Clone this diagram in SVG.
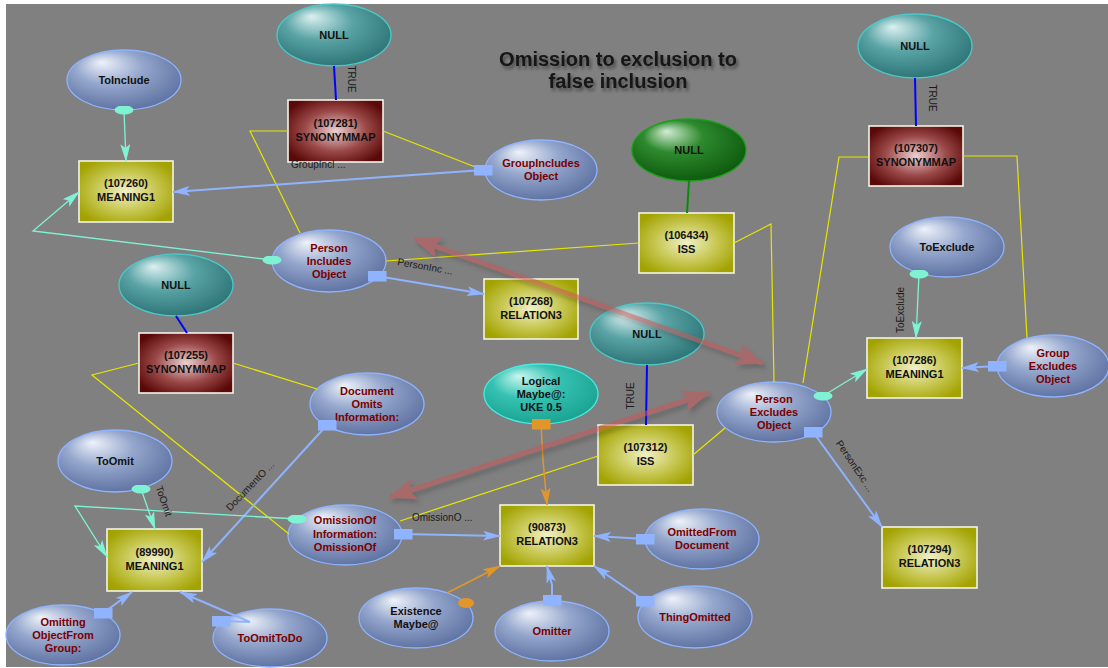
<svg xmlns="http://www.w3.org/2000/svg" width="1108" height="668" viewBox="0 0 1108 668">
<style>
text{font-family:"Liberation Sans",Arial,sans-serif}
.nt{font-size:11px;font-weight:bold;text-anchor:middle;fill:#111}
.rt{font-size:11px;font-weight:bold;text-anchor:middle;fill:#7a0000}
.el{stroke:#8fb3ff;stroke-width:1.3}
.tl{stroke:#4cc8c8;stroke-width:1.3}
.rc{stroke:#f4f4e8;stroke-width:1.6}
.cb{fill:none;stroke:#8fb3ff;stroke-width:2}
.cc{fill:none;stroke:#80f2d4;stroke-width:1.3}
.co{fill:none;stroke:#e0962a;stroke-width:1.5}
.cy{fill:none;stroke:#e6e600;stroke-width:1.2}
.cd{fill:none;stroke:#0000ff;stroke-width:2}
.lb{font-size:10px;fill:#1a1a1a}
.title{font-size:20px;font-weight:bold;text-anchor:middle;fill:#141414}
</style>
<defs>
<radialGradient id="gBlue" cx="0.45" cy="0.4" r="0.65" fx="0.3" fy="0.2"><stop offset="0" stop-color="#eef2fa"/><stop offset="0.45" stop-color="#95a7cd"/><stop offset="1" stop-color="#5a6e9e"/></radialGradient>
<radialGradient id="gTeal" cx="0.45" cy="0.4" r="0.65" fx="0.3" fy="0.2"><stop offset="0" stop-color="#dcf0f0"/><stop offset="0.45" stop-color="#5aa4a6"/><stop offset="1" stop-color="#2a7072"/></radialGradient>
<radialGradient id="gGreen" cx="0.45" cy="0.4" r="0.65" fx="0.3" fy="0.2"><stop offset="0" stop-color="#d4ecd4"/><stop offset="0.4" stop-color="#2e8a2e"/><stop offset="1" stop-color="#0b560b"/></radialGradient>
<radialGradient id="gLog" cx="0.45" cy="0.4" r="0.65" fx="0.3" fy="0.2"><stop offset="0" stop-color="#c8f6f0"/><stop offset="0.45" stop-color="#36c2b2"/><stop offset="1" stop-color="#16a090"/></radialGradient>
<radialGradient id="gYel" cx="0.5" cy="0.5" r="0.6"><stop offset="0" stop-color="#f0f0c8"/><stop offset="0.55" stop-color="#c6c650"/><stop offset="1" stop-color="#a2a200"/></radialGradient>
<radialGradient id="gBrn" cx="0.5" cy="0.5" r="0.6"><stop offset="0" stop-color="#ecd0d0"/><stop offset="0.55" stop-color="#9a4848"/><stop offset="1" stop-color="#5a0808"/></radialGradient>
<marker id="arB" viewBox="0 0 18 10" refX="17" refY="5" markerWidth="18" markerHeight="10" markerUnits="userSpaceOnUse" orient="auto"><path d="M0,0 L18,5 L0,10 L4,5 Z" fill="#8fb3ff"/></marker>
<marker id="arC" viewBox="0 0 18 10" refX="17" refY="5" markerWidth="18" markerHeight="10" markerUnits="userSpaceOnUse" orient="auto"><path d="M0,0 L18,5 L0,10 L4,5 Z" fill="#80f2d4"/></marker>
<marker id="arO" viewBox="0 0 18 10" refX="17" refY="5" markerWidth="18" markerHeight="10" markerUnits="userSpaceOnUse" orient="auto"><path d="M0,0 L18,5 L0,10 L4,5 Z" fill="#e0962a"/></marker>
<marker id="sqB" viewBox="0 0 19 11" refX="9.5" refY="5.5" markerWidth="19" markerHeight="11" markerUnits="userSpaceOnUse"><rect width="19" height="11" fill="#8fb3ff"/></marker>
<marker id="sqO" viewBox="0 0 19 11" refX="9.5" refY="5.5" markerWidth="19" markerHeight="11" markerUnits="userSpaceOnUse"><rect width="19" height="11" fill="#e0962a"/></marker>
<marker id="dotC" viewBox="0 0 20 9" refX="10" refY="4.5" markerWidth="20" markerHeight="9" markerUnits="userSpaceOnUse"><ellipse cx="10" cy="4.5" rx="9.5" ry="4.5" fill="#80f2d4"/></marker>
<marker id="arR" viewBox="0 0 28 22" refX="26" refY="11" markerWidth="28" markerHeight="22" markerUnits="userSpaceOnUse" orient="auto-start-reverse"><path d="M0,0 L28,11 L0,22 L6,11 Z" fill="#c85858"/></marker>
<filter id="sh" x="-10%" y="-30%" width="120%" height="160%"><feDropShadow dx="2" dy="3" stdDeviation="1.5" flood-color="#222" flood-opacity="0.55"/></filter>
<filter id="shR" x="-10%" y="-20%" width="120%" height="140%"><feDropShadow dx="3" dy="4" stdDeviation="2" flood-color="#333" flood-opacity="0.5"/></filter>
</defs>
<rect x="0" y="0" width="1108" height="668" fill="#ffffff"/>
<rect x="6" y="4" width="1102" height="663" fill="#808080"/>
<text class="title" x="618" y="66" filter="url(#sh)">Omission to exclusion to</text>
<text class="title" x="618" y="88" filter="url(#sh)">false inclusion</text>

<g id="n_toinclude"><ellipse class="el" cx="124" cy="80" rx="57" ry="30" fill="url(#gBlue)"/><text class="nt" x="124" y="84">ToInclude</text></g>
<g id="n_null1"><ellipse class="tl" cx="334" cy="35" rx="57" ry="31" fill="url(#gTeal)"/><text class="nt" x="334" y="39">NULL</text></g>
<g id="n_107281"><rect class="rc" x="288" y="100" width="95" height="62" fill="url(#gBrn)"/><text class="nt" x="335.5" y="127">(107281)</text><text class="nt" x="335.5" y="141">SYNONYMMAP</text></g>
<g id="n_107260"><rect class="rc" x="79" y="161" width="94" height="61" fill="url(#gYel)"/><text class="nt" x="126" y="187">(107260)</text><text class="nt" x="126" y="201">MEANING1</text></g>
<g id="n_groupinc"><ellipse class="el" cx="541" cy="170" rx="56" ry="30" fill="url(#gBlue)"/><text class="rt" x="541" y="167">GroupIncludes</text><text class="rt" x="541" y="180">Object</text></g>
<g id="n_null_green"><ellipse cx="689" cy="150" rx="57" ry="31" fill="url(#gGreen)" stroke="#18a018" stroke-width="1.3"/><text class="nt" x="689" y="154">NULL</text></g>
<g id="n_106434"><rect class="rc" x="639" y="213" width="95" height="60" fill="url(#gYel)"/><text class="nt" x="686.5" y="238.5">(106434)</text><text class="nt" x="686.5" y="252.5">ISS</text></g>
<g id="n_null2"><ellipse class="tl" cx="915" cy="46" rx="57" ry="32" fill="url(#gTeal)"/><text class="nt" x="915" y="50">NULL</text></g>
<g id="n_107307"><rect class="rc" x="869" y="126" width="94" height="60" fill="url(#gBrn)"/><text class="nt" x="916" y="151.5">(107307)</text><text class="nt" x="916" y="165.5">SYNONYMMAP</text></g>
<g id="n_pio"><ellipse class="el" cx="329" cy="261" rx="57" ry="31" fill="url(#gBlue)"/><text class="rt" x="329" y="252">Person</text><text class="rt" x="329" y="265">Includes</text><text class="rt" x="329" y="278">Object</text></g>
<g id="n_107268"><rect class="rc" x="484" y="279" width="94" height="60" fill="url(#gYel)"/><text class="nt" x="531" y="304.5">(107268)</text><text class="nt" x="531" y="318.5">RELATION3</text></g>
<g id="n_toexclude"><ellipse class="el" cx="947" cy="247" rx="57" ry="30" fill="url(#gBlue)"/><text class="nt" x="947" y="251">ToExclude</text></g>
<g id="n_107286"><rect class="rc" x="867" y="338" width="95" height="60" fill="url(#gYel)"/><text class="nt" x="914.5" y="363.5">(107286)</text><text class="nt" x="914.5" y="377.5">MEANING1</text></g>
<g id="n_groupexc"><ellipse class="el" cx="1053" cy="366" rx="56" ry="31" fill="url(#gBlue)"/><text class="rt" x="1053" y="357">Group</text><text class="rt" x="1053" y="370">Excludes</text><text class="rt" x="1053" y="383">Object</text></g>
<g id="n_null3"><ellipse class="tl" cx="176" cy="285" rx="57" ry="31" fill="url(#gTeal)"/><text class="nt" x="176" y="289">NULL</text></g>
<g id="n_107255"><rect class="rc" x="139" y="333" width="94" height="60" fill="url(#gBrn)"/><text class="nt" x="186" y="358.5">(107255)</text><text class="nt" x="186" y="372.5">SYNONYMMAP</text></g>
<g id="n_docomits"><ellipse class="el" cx="367" cy="404" rx="57" ry="31" fill="url(#gBlue)"/><text class="rt" x="367" y="395">Document</text><text class="rt" x="367" y="408">Omits</text><text class="rt" x="367" y="421">Information:</text></g>
<g id="n_null4"><ellipse class="tl" cx="647" cy="334" rx="57" ry="31" fill="url(#gTeal)"/><text class="nt" x="647" y="338">NULL</text></g>
<g id="n_logical"><ellipse cx="541" cy="394" rx="57" ry="30" fill="url(#gLog)" stroke="#48ece2" stroke-width="1.3"/><text class="nt" x="541" y="385">Logical</text><text class="nt" x="541" y="398">Maybe@:</text><text class="nt" x="541" y="411">UKE 0.5</text></g>
<g id="n_peo"><ellipse class="el" cx="774" cy="412" rx="57" ry="30" fill="url(#gBlue)"/><text class="rt" x="774" y="403">Person</text><text class="rt" x="774" y="416">Excludes</text><text class="rt" x="774" y="429">Object</text></g>
<g id="n_107312"><rect class="rc" x="598" y="425" width="95" height="60" fill="url(#gYel)"/><text class="nt" x="645.5" y="450.5">(107312)</text><text class="nt" x="645.5" y="464.5">ISS</text></g>
<g id="n_toomit"><ellipse class="el" cx="115" cy="461" rx="57" ry="31" fill="url(#gBlue)"/><text class="nt" x="115" y="465">ToOmit</text></g>
<g id="n_89990"><rect class="rc" x="107" y="529" width="95" height="62" fill="url(#gYel)"/><text class="nt" x="154.5" y="555.5">(89990)</text><text class="nt" x="154.5" y="569.5">MEANING1</text></g>
<g id="n_omissionof"><ellipse class="el" cx="345" cy="535" rx="57" ry="30" fill="url(#gBlue)"/><text class="rt" x="345" y="524">OmissionOf</text><text class="rt" x="345" y="538">Information:</text><text class="rt" x="345" y="551">OmissionOf</text></g>
<g id="n_90873"><rect class="rc" x="500" y="505" width="94" height="61" fill="url(#gYel)"/><text class="nt" x="547" y="531">(90873)</text><text class="nt" x="547" y="545">RELATION3</text></g>
<g id="n_omittedfrom"><ellipse class="el" cx="702" cy="539" rx="57" ry="30" fill="url(#gBlue)"/><text class="rt" x="702" y="536">OmittedFrom</text><text class="rt" x="702" y="549">Document</text></g>
<g id="n_existence"><ellipse class="el" cx="416" cy="618" rx="57" ry="30" fill="url(#gBlue)"/><text class="nt" x="416" y="615">Existence</text><text class="nt" x="416" y="628">Maybe@</text></g>
<g id="n_omitter"><ellipse class="el" cx="552" cy="631" rx="57" ry="30" fill="url(#gBlue)"/><text class="rt" x="552" y="635">Omitter</text></g>
<g id="n_thingomitted"><ellipse class="el" cx="695" cy="617" rx="57" ry="31" fill="url(#gBlue)"/><text class="rt" x="695" y="621">ThingOmitted</text></g>
<g id="n_107294"><rect class="rc" x="882" y="527" width="95" height="61" fill="url(#gYel)"/><text class="nt" x="929.5" y="553">(107294)</text><text class="nt" x="929.5" y="567">RELATION3</text></g>
<g id="n_omitting"><ellipse class="el" cx="63" cy="635" rx="57" ry="30" fill="url(#gBlue)"/><text class="rt" x="63" y="626">Omitting</text><text class="rt" x="63" y="639">ObjectFrom</text><text class="rt" x="63" y="652">Group:</text></g>
<g id="n_toomittodo"><ellipse class="el" cx="270" cy="638" rx="57" ry="29" fill="url(#gBlue)"/><text class="rt" x="270" y="642">ToOmitToDo</text></g>

<g id="connectors">
<path class="cy" d="M288,131 L250,131 L300,233"/>
<path class="cy" d="M383,131 L483,170"/>
<path class="cy" d="M386,261 L639,243"/>
<path class="cy" d="M734,243 L771,224 L774,382"/>
<path class="cy" d="M869,157 L839,157 L803,383"/>
<path class="cy" d="M963,156 L1017,156 L1027,338"/>
<path class="cy" d="M693,455 L725,428"/>
<path class="cy" d="M598,456 L400,521"/>
<path class="cy" d="M139,363 L92,375 L289,534"/>
<path class="cy" d="M233,363 L317,389"/>
<path class="cd" d="M334,66 L336,100"/>
<path class="cd" d="M915,78 L916,126"/>
<path class="cd" d="M176,316 L187,333"/>
<path class="cd" d="M647,365 L646,425"/>
<path d="M689,181 L687,213" fill="none" stroke="#0a8a0a" stroke-width="2"/>
<path class="cb" d="M483,170 L173,192" marker-start="url(#sqB)" marker-end="url(#arB)"/>
<path class="cb" d="M377,276 L484,294" marker-start="url(#sqB)" marker-end="url(#arB)"/>
<path class="cb" d="M997,366 L962,368" marker-start="url(#sqB)" marker-end="url(#arB)"/>
<path class="cb" d="M813,432 L882,527" marker-start="url(#sqB)" marker-end="url(#arB)"/>
<path class="cb" d="M327,425 L202,562" marker-start="url(#sqB)" marker-end="url(#arB)"/>
<path class="cb" d="M403,534 L500,536" marker-start="url(#sqB)" marker-end="url(#arB)"/>
<path class="cb" d="M645,539 L594,536" marker-start="url(#sqB)" marker-end="url(#arB)"/>
<path class="cb" d="M645,601 L594,566" marker-start="url(#sqB)" marker-end="url(#arB)"/>
<path class="cb" d="M552,600 L552,585 L547,566" marker-start="url(#sqB)" marker-end="url(#arB)"/>
<path class="cb" d="M103,613 L132,592" marker-start="url(#sqB)" marker-end="url(#arB)"/>
<path class="cb" d="M221,621 L250,622 L180,592" marker-start="url(#sqB)" marker-end="url(#arB)"/>
<path class="cc" d="M124,110 L126,161" marker-start="url(#dotC)" marker-end="url(#arC)"/>
<path class="cc" d="M272,260 L33,231 L79,192" marker-start="url(#dotC)" marker-end="url(#arC)"/>
<path class="cc" d="M919,274 L916,338" marker-start="url(#dotC)" marker-end="url(#arC)"/>
<path class="cc" d="M823,396 L867,369" marker-start="url(#dotC)" marker-end="url(#arC)"/>
<path class="cc" d="M141,489 L155,529" marker-start="url(#dotC)" marker-end="url(#arC)"/>
<path class="cc" d="M297,519 L75,506 L107,557" marker-start="url(#dotC)" marker-end="url(#arC)"/>
<path class="co" d="M541,424 L543,460 L547,505" marker-start="url(#sqO)" marker-end="url(#arO)"/>
<path class="co" d="M447,593 L500,566" marker-end="url(#arO)"/>
<ellipse cx="466" cy="603" rx="8" ry="5" fill="#e0962a"/>
<g opacity="0.55" filter="url(#shR)">
<path d="M415,239 L762,363" fill="none" stroke="#c85858" stroke-width="5" marker-start="url(#arR)" marker-end="url(#arR)"/>
<path d="M390,497 L708,393" fill="none" stroke="#c85858" stroke-width="5" marker-start="url(#arR)" marker-end="url(#arR)"/>
</g>
<text class="lb" x="291" y="168">GroupIncl ...</text>
<text class="lb" x="397" y="265" transform="rotate(10 397 265)">PersonInc ...</text>
<text class="lb" x="412" y="521">OmissionO ...</text>
<text class="lb" text-anchor="middle" dominant-baseline="central" transform="translate(250,486) rotate(-46)">DocumentO ...</text>
<text class="lb" text-anchor="middle" dominant-baseline="central" transform="translate(164,501) rotate(71)">ToOmit</text>
<text class="lb" text-anchor="middle" dominant-baseline="central" transform="translate(855,466) rotate(56)">PersonExc ...</text>
<text class="lb" text-anchor="middle" dominant-baseline="central" transform="translate(900,310) rotate(-90)">ToExclude</text>
<text class="lb" text-anchor="middle" dominant-baseline="central" transform="translate(351,79) rotate(90)">TRUE</text>
<text class="lb" text-anchor="middle" dominant-baseline="central" transform="translate(932,98) rotate(90)">TRUE</text>
<text class="lb" text-anchor="middle" dominant-baseline="central" transform="translate(630,396) rotate(-90)">TRUE</text>
</g>
</svg>
